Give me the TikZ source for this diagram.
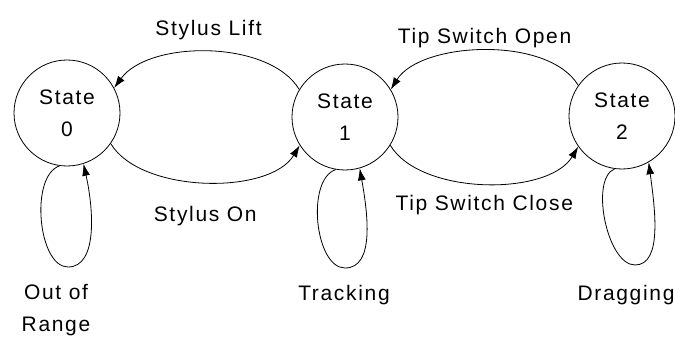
\documentclass[tikz,border=0pt]{standalone}
\usepackage{fontspec}
\setmainfont[LetterSpace=8]{Liberation Sans}
\usetikzlibrary{arrows.meta, positioning}

\begin{document}
\begin{tikzpicture}[x=1pt, y=-1pt, >={Latex[length=12pt, width=8pt]}, line width=0.8pt, font=\fontsize{21}{32}\selectfont]
\tikzset{
    state/.style={draw, circle, minimum size=106pt, inner sep=0pt, align=center},
    event/.style={inner sep=0pt, align=center}
}
\useasboundingbox (0,0) rectangle (675,337);
\node[state] (S0) at (67, 113) {State\\0};
\node[state] (S1) at (345, 117) {State\\1};
\node[state] (S2) at (622, 116) {State\\2};
% transitions between states
\draw[->] (S1.149) .. controls +(-30,-50) and +(35,-48) .. (S0.28) node[event, midway, above=12pt] {Stylus Lift};
\draw[->] (S0.-35) .. controls +(30,50) and +(-30,50) .. (S1.212) node[event, midway, below=24pt] {Stylus On};
\draw[->] (S2.145) .. controls +(-30,-50) and +(30,-48) .. (S1.31) node[event, midway, above=2pt] {Tip Switch Open};
\draw[->] (S1.-32) .. controls +(30,50) and +(-30,50) .. (S2.215) node[event, midway, below=11pt] {Tip Switch Close};
% self loops
\coordinate (L0) at (68, 267); \coordinate (L1) at (345, 268); \coordinate (L2) at (635, 265);
\draw[->] (S0.262) .. controls +(-30,10) and +(-30,0) .. (L0) .. controls +(30,0) and +(10,45) .. (S0.288);
\draw[->] (S1.260) .. controls +(-30,10) and +(-30,0) .. (L1) .. controls +(30,0) and +(8,45) .. (S1.286);
\draw[->] (S2.262) .. controls +(-25,10) and +(-28,0) .. (L2) .. controls +(28,0) and +(6,45) .. (S2.300);
\node[event] (R0) at (56, 310) {Out of\\Range};
\node[event] (R1) at (344, 295) {Tracking};
\node[event] (R2) at (626, 295) {Dragging};
\end{tikzpicture}
\end{document}
